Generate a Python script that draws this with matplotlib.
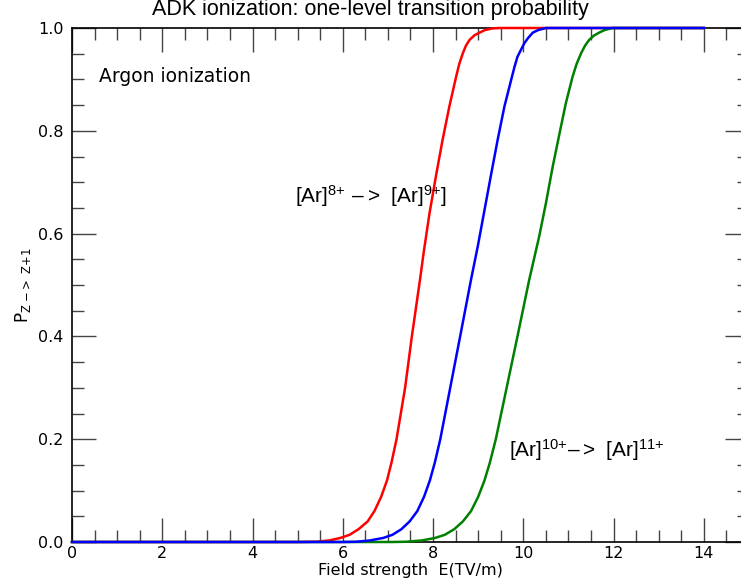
import matplotlib
matplotlib.use("Agg")
import matplotlib.pyplot as plt
from matplotlib.ticker import MultipleLocator

# values (field strength in TV/m, probability)
red_x = [0.0, 5.0, 5.4, 5.7, 5.95, 6.15, 6.35, 6.55, 6.7, 6.85, 6.98, 7.08,
         7.19, 7.38, 7.53, 7.71, 7.79, 7.92, 8.07, 8.21, 8.36, 8.51, 8.58,
         8.66, 8.73, 8.81, 8.92, 9.03, 9.15, 9.30, 9.47, 14.0]
red_y = [0.0, 0.0, 0.0005, 0.003, 0.008, 0.014, 0.025, 0.04, 0.06, 0.088, 0.12, 0.155,
         0.2, 0.3, 0.4, 0.51, 0.562, 0.639, 0.715, 0.782, 0.847, 0.905, 0.93,
         0.951, 0.966, 0.977, 0.986, 0.991, 0.996, 0.999, 1.0, 1.0]

blue_x = [0.0, 6.0, 6.3, 6.6, 6.9, 7.1, 7.3, 7.48, 7.65, 7.8, 7.93, 8.04,
          8.16, 8.38, 8.60, 8.84, 8.99, 9.14, 9.29, 9.43, 9.58, 9.73, 9.80,
          9.87, 9.95, 10.02, 10.10, 10.21, 10.33, 10.50, 14.0]
blue_y = [0.0, 0.0, 0.0005, 0.003, 0.008, 0.014, 0.025, 0.04, 0.06, 0.088, 0.12, 0.155,
          0.2, 0.3, 0.4, 0.51, 0.575, 0.646, 0.717, 0.782, 0.847, 0.899, 0.923,
          0.944, 0.958, 0.970, 0.980, 0.991, 0.996, 1.0, 1.0]

green_x = [0.0, 7.1, 7.4, 7.75, 8.05, 8.26, 8.47, 8.66, 8.84, 9.0, 9.14, 9.26,
           9.39, 9.63, 9.87, 10.13, 10.35, 10.50, 10.65, 10.80, 10.94, 11.09, 11.18,
           11.28, 11.37, 11.46, 11.56, 11.68, 11.80, 11.98, 14.0]
green_y = [0.0, 0.0, 0.0005, 0.003, 0.008, 0.014, 0.025, 0.04, 0.06, 0.088, 0.12, 0.155,
           0.2, 0.3, 0.4, 0.51, 0.594, 0.659, 0.730, 0.794, 0.853, 0.905, 0.930,
           0.951, 0.966, 0.977, 0.985, 0.991, 0.996, 1.0, 1.0]

x_ticks = [0, 2, 4, 6, 8, 10, 12, 14]
y_ticks = [0.0, 0.2, 0.4, 0.6, 0.8, 1.0]

plt.rcParams['mathtext.fontset'] = 'custom'
plt.rcParams['mathtext.rm'] = 'Liberation Sans'
plt.rcParams['mathtext.sf'] = 'DejaVu Sans'

fig = plt.figure(figsize=(7.41, 5.87), dpi=100)
ax = fig.add_axes([72 / 741, 45 / 587, 677 / 741, 514 / 587])

lw = 1.8
ax.plot(red_x, red_y, color='red', lw=lw, clip_on=False, zorder=3)
ax.plot(green_x, green_y, color='green', lw=lw, clip_on=False, zorder=3)
ax.plot(blue_x, blue_y, color='blue', lw=lw, clip_on=False, zorder=3)

ax.set_xlim(0, 15)
ax.set_ylim(0, 1)
ax.set_xticks(x_ticks)
ax.set_yticks(y_ticks)
ax.xaxis.set_minor_locator(MultipleLocator(0.5))
ax.yaxis.set_minor_locator(MultipleLocator(0.05))
ax.tick_params(which='both', direction='in', top=True, right=True,
               color='#444444', width=1.0, labelsize=11.5)
ax.tick_params(which='major', length=17.3)
ax.tick_params(which='minor', length=8.6)
ax.tick_params(axis='x', pad=3)
ax.tick_params(axis='y', pad=6)
for s in ax.spines.values():
    s.set_linewidth(1.2)

ax.set_xlabel('Field strength  E(TV/m)', fontsize=11.5, labelpad=1)
ax.set_ylabel(r'$\mathsf{P}_{\mathsf{Z\ {-}{>}\ Z{+}1}}$', fontsize=12, labelpad=4)

fig.text(0.5, 0.983, 'ADK ionization: one-level transition probability',
         ha='center', va='center', fontsize=15.5, family='Liberation Sans')

ax.text(0.6, 0.905, 'Argon ionization', fontsize=13.5, va='center')
ax.text(4.93, 0.673, '$\\mathrm{[Ar]^{8{+}}\\ \u2013{>}\\ [Ar]^{9{+}}]}$',
        fontsize=15, va='center')
ax.text(9.69, 0.179, '$\\mathrm{[Ar]^{10{+}}\u2013{>}\\ [Ar]^{11{+}}}$',
        fontsize=15, va='center')

fig.savefig('out.png', dpi=100)
